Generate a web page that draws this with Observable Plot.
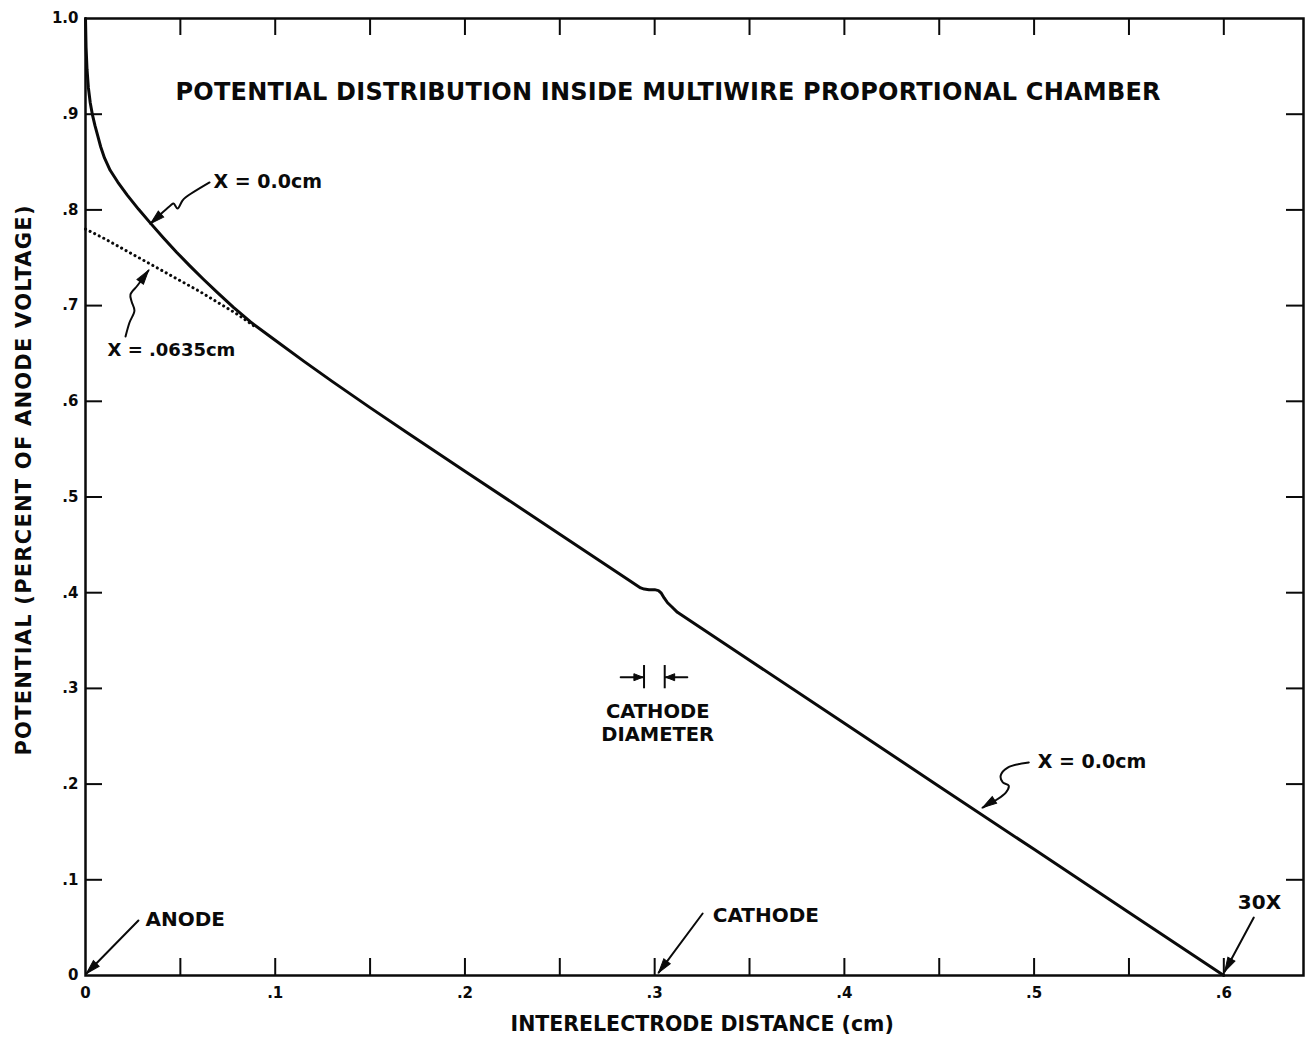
<!DOCTYPE html>
<html>
<head>
<meta charset="utf-8">
<script src="https://cdn.jsdelivr.net/npm/d3@7"></script>
<script src="https://cdn.jsdelivr.net/npm/@observablehq/plot@0.6"></script>
<style>
  body { margin: 0; background: #fff; }
  #chart svg { display: block; }
</style>
</head>
<body>
<div id="chart"></div>
<script>
// Potential through the anode wire plane (X = 0.0 cm), fraction of anode voltage
const wireDistance = [0, 0.0003, 0.0008, 0.0015, 0.0025, 0.0037, 0.005, 0.0065, 0.008, 0.01, 0.013, 0.017, 0.022, 0.028, 0.034, 0.041, 0.048, 0.055, 0.062, 0.07, 0.078, 0.087, 0.1, 0.115, 0.13, 0.15, 0.17, 0.2, 0.25, 0.2857, 0.2926, 0.2945, 0.297, 0.3, 0.302, 0.3035, 0.305, 0.3068, 0.309, 0.312, 0.35, 0.4, 0.45, 0.5, 0.55, 0.6];
const wirePotential = [1.0, 0.97, 0.947, 0.928, 0.912, 0.899, 0.888, 0.877, 0.866, 0.8543, 0.8414, 0.8291, 0.8155, 0.8006, 0.7867, 0.771, 0.7558, 0.7415, 0.7278, 0.7128, 0.6982, 0.6829, 0.6638, 0.642, 0.6208, 0.5934, 0.5665, 0.527, 0.4611, 0.4141, 0.405, 0.4038, 0.4032, 0.4032, 0.4022, 0.3995, 0.3945, 0.3895, 0.3853, 0.3795, 0.3294, 0.2635, 0.1976, 0.1318, 0.0659, 0.0];

// Potential midway between wires (X = .0635 cm)
const midDistance = [0, 0.01, 0.02, 0.03, 0.04, 0.05, 0.06, 0.07, 0.08, 0.09];
const midPotential = [0.780, 0.770, 0.759, 0.748, 0.737, 0.726, 0.715, 0.703, 0.691, 0.677];

// Axis ticks and their labels
const xTickMarks = [0.05, 0.1, 0.15, 0.2, 0.25, 0.3, 0.35, 0.4, 0.45, 0.5, 0.55, 0.6];
const yTickMarks = [0.1, 0.2, 0.3, 0.4, 0.5, 0.6, 0.7, 0.8, 0.9];
const xTickValues = [0, 0.1, 0.2, 0.3, 0.4, 0.5, 0.6];
const xTickText = ["0", ".1", ".2", ".3", ".4", ".5", ".6"];
const yTickValues = [0, 0.1, 0.2, 0.3, 0.4, 0.5, 0.6, 0.7, 0.8, 0.9, 1.0];
const yTickText = ["0", ".1", ".2", ".3", ".4", ".5", ".6", ".7", ".8", ".9", "1.0"];

// Text
const titleText = "POTENTIAL DISTRIBUTION INSIDE MULTIWIRE PROPORTIONAL CHAMBER";
const xAxisText = "INTERELECTRODE DISTANCE (cm)";
const yAxisText = "POTENTIAL (PERCENT OF ANODE VOLTAGE)";

// Callouts (left end of each label)
const noteText = ["X = 0.0cm", "X = .0635cm", "X = 0.0cm", "ANODE", "CATHODE", "30X"];
const noteX = [0.0675, 0.0116, 0.5019, 0.0316, 0.3306, 0.6074];
const noteY = [0.8297, 0.653, 0.2236, 0.058, 0.0627, 0.0763];
const diameterText = ["CATHODE", "DIAMETER"];
const diameterY = [0.2751, 0.2518];
const diameterX = 0.3016;

// Leader lines, drawn from the label to the arrow tip
const leaderUpperX = [0.0654, 0.0527, 0.0511, 0.0485, 0.0464, 0.0448, 0.0343];
const leaderUpperY = [0.8287, 0.8130, 0.8098, 0.8015, 0.8067, 0.8046, 0.7858];
const leaderMidX = [0.0211, 0.0232, 0.0258, 0.0243, 0.0237, 0.0274, 0.0332];
const leaderMidY = [0.6677, 0.6823, 0.6949, 0.7043, 0.7116, 0.721, 0.7367];
const leaderLowerX = [0.4972, 0.4861, 0.4824, 0.4835, 0.4866, 0.4851, 0.4729];
const leaderLowerY = [0.2226, 0.2173, 0.2090, 0.2017, 0.1985, 0.1912, 0.1755];
const leaderAnodeX = [0.0279, 0.0005];
const leaderAnodeY = [0.0575, 0.0021];
const leaderCathodeX = [0.3253, 0.3021];
const leaderCathodeY = [0.0648, 0.0031];
const leader30xX = [0.6158, 0.6005];
const leader30xY = [0.0606, 0.0042];

// Cathode diameter dimension marks
const dimLeftX = [0.2821, 0.2938];
const dimRightX = [0.3172, 0.3058];
const dimY = 0.3117;
const dimBarX = [0.2944, 0.3053];
const dimBarY = [0.2996, 0.3239];

// Layout
const W = 1310, H = 1042;
const M = {top: 18, right: 7, bottom: 67, left: 85};
const xMax = 0.642;
const innerW = W - M.left - M.right;
const innerH = H - M.top - M.bottom;
const kx = innerW / xMax, ky = innerH;
const tickLen = 17;
const FONT = "'DejaVu Sans', 'Liberation Sans', sans-serif";

const wire = wireDistance.map((d, i) => ({d, v: wirePotential[i]}));
const mid = midDistance.map((d, i) => ({d, v: midPotential[i]}));

function pathOf(id, xs, ys) { return xs.map((x, i) => ({id, x, y: ys[i]})); }
const leaders = [
  pathOf("upper", leaderUpperX, leaderUpperY),
  pathOf("mid", leaderMidX, leaderMidY),
  pathOf("lower", leaderLowerX, leaderLowerY),
  pathOf("anode", leaderAnodeX, leaderAnodeY),
  pathOf("cathode", leaderCathodeX, leaderCathodeY),
  pathOf("30x", leader30xX, leader30xY)
];
const dims = [pathOf("dl", dimLeftX, [dimY, dimY]), pathOf("dr", dimRightX, [dimY, dimY])];

// Arrow head at the end of a path, turned along its last segment
function headOf(path) {
  const a = path[path.length - 2], b = path[path.length - 1];
  const angle = Math.atan2((b.x - a.x) * kx, (b.y - a.y) * ky) * 180 / Math.PI;
  return {x: b.x, y: b.y, angle};
}
function headSymbol(len, wid) {
  return {draw(ctx) { ctx.moveTo(0, 0); ctx.lineTo(-wid / 2, len); ctx.lineTo(wid / 2, len); ctx.closePath(); }};
}

const leaderPts = leaders.flat();
const dimPts = dims.flat();
const bigHeads = leaders.map(headOf);
const smallHeads = dims.map(headOf);

const xLabel = new Map(xTickValues.map((v, i) => [v, xTickText[i]]));
const yLabel = new Map(yTickValues.map((v, i) => [v, yTickText[i]]));

const ink = "#0a0a0a";

const chart = Plot.plot({
  width: W,
  height: H,
  marginTop: M.top, marginRight: M.right, marginBottom: M.bottom, marginLeft: M.left,
  x: {domain: [0, xMax]},
  y: {domain: [0, 1]},
  style: {fontFamily: FONT, color: ink, background: "#fff"},
  marks: [
    Plot.frame({stroke: ink, strokeWidth: 2.5}),
    // inward ticks on all four sides
    Plot.ruleX(xTickMarks, {x: d => d, insetTop: innerH - tickLen, stroke: ink, strokeWidth: 2}),
    Plot.ruleX(xTickMarks, {x: d => d, insetBottom: innerH - tickLen, stroke: ink, strokeWidth: 2}),
    Plot.ruleY(yTickMarks, {y: d => d, insetRight: innerW - tickLen, stroke: ink, strokeWidth: 2}),
    Plot.ruleY(yTickMarks, {y: d => d, insetLeft: innerW - tickLen, stroke: ink, strokeWidth: 2}),
    Plot.axisX(xTickValues, {tickSize: 0, tickPadding: 12, tickFormat: d => xLabel.get(d), fontSize: 15, fontWeight: "bold", label: null}),
    Plot.axisY(yTickValues, {tickSize: 0, tickPadding: 7, tickFormat: d => yLabel.get(d), fontSize: 15, fontWeight: "bold", label: null}),
    // potential curves
    Plot.line(mid, {x: "d", y: "v", stroke: ink, strokeWidth: 3, strokeLinecap: "round", strokeDasharray: "0.1,5"}),
    Plot.line(wire, {x: "d", y: "v", stroke: ink, strokeWidth: 3, strokeLinejoin: "round"}),
    // leaders and arrow heads
    Plot.line(leaderPts, {x: "x", y: "y", z: "id", stroke: ink, strokeWidth: 2, curve: "catmull-rom"}),
    Plot.dot(bigHeads, {x: "x", y: "y", rotate: "angle", symbol: headSymbol(14, 8), fill: ink, stroke: ink, strokeWidth: 1}),
    Plot.line(dimPts, {x: "x", y: "y", z: "id", stroke: ink, strokeWidth: 2}),
    Plot.dot(smallHeads, {x: "x", y: "y", rotate: "angle", symbol: headSymbol(9, 7), fill: ink, stroke: ink, strokeWidth: 1}),
    Plot.ruleX(dimBarX, {x: d => d, y1: dimBarY[0], y2: dimBarY[1], stroke: ink, strokeWidth: 2}),
    // labels
    Plot.text(noteText, {x: (d, i) => noteX[i], y: (d, i) => noteY[i], text: d => d, textAnchor: "start",
      fontSize: d => d.includes(".0635") ? 18 : (d.startsWith("X") ? 19 : 20), fontWeight: "bold", fill: ink}),
    Plot.text(diameterText, {x: () => diameterX, y: (d, i) => diameterY[i], text: d => d, textAnchor: "middle", fontSize: 19.5, fontWeight: "bold", fill: ink}),
    Plot.text([titleText], {frameAnchor: "top", dy: 64, dx: -26.5, text: d => d, fontSize: 24, fontWeight: "bold", fill: ink}),
    Plot.text([yAxisText], {frameAnchor: "left", dx: -61.5, dy: -16.5, rotate: -90, textAnchor: "middle", text: d => d, fontSize: 21, fontWeight: "bold", fill: ink}),
    Plot.text([xAxisText], {frameAnchor: "bottom-left", dx: 425, dy: 55, textAnchor: "start", text: d => d, fontSize: 20.5, fontWeight: "bold", fill: ink})
  ]
});

// stretch the long headings to their lettered widths
const spans = new Map([[titleText, 985], [yAxisText, 550]]);
chart.querySelectorAll("text").forEach(t => {
  const w = spans.get(t.textContent);
  if (w) { t.setAttribute("textLength", w); t.setAttribute("lengthAdjust", "spacing"); }
});
document.getElementById("chart").append(chart);
</script>
</body>
</html>
